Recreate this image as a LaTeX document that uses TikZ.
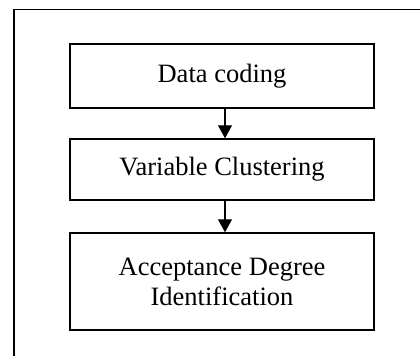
\documentclass[tikz,border=0pt]{standalone}
\usepackage{fontspec}
\setmainfont{Liberation Serif}
\usetikzlibrary{shapes,arrows.meta}
\tikzstyle{block} = [rectangle, draw, line width=1.5pt, text centered, minimum width=304pt, inner sep=0pt, font=\fontsize{26.5}{30}\selectfont]
\tikzstyle{line} = [draw, line width=1.3pt, -{Triangle[width=14pt,length=13pt]}]

\begin{document}
\begin{tikzpicture}[x=1pt,y=-1pt]
\useasboundingbox (0,0) rectangle (420,356);
\draw [line width=1.5pt] (14,356) -- (14,9.5) -- (420,9.5);
\node [block, minimum height=64pt] (coding) at (222,76) {Data coding};
\node [block, minimum height=61pt] (cluster) at (222,169.5) {Variable Clustering};
\node [block, minimum height=97pt, align=center] (degree) at (222,281.5) {Acceptance Degree\\Identification};
\path [line] ([xshift=3pt]coding.south) -- ([xshift=3pt]cluster.north);
\path [line] ([xshift=3pt]cluster.south) -- ([xshift=3pt]degree.north);
\end{tikzpicture}
\end{document}
